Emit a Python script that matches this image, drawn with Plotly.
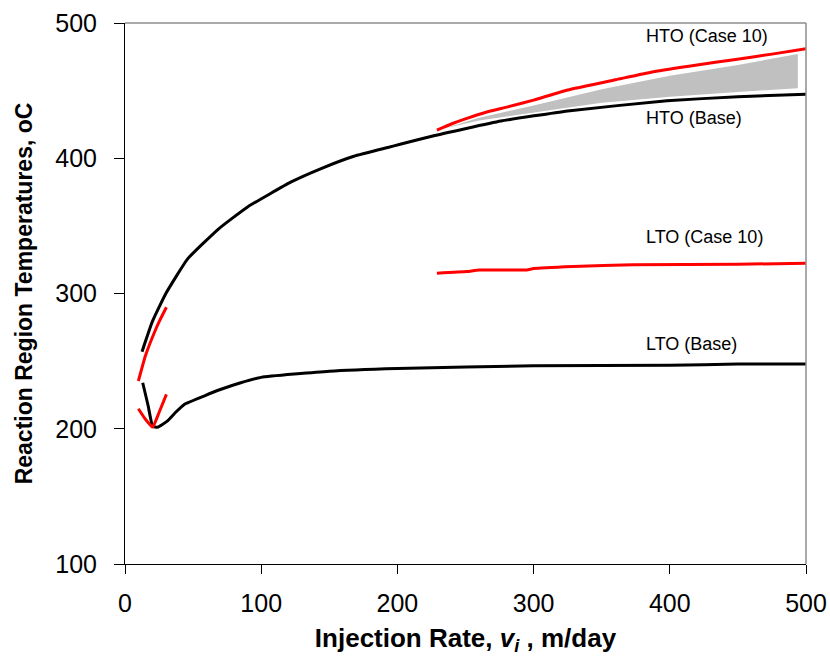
import plotly.graph_objects as go

# HTO base (black)
hto_base_x = [12.5, 20, 30, 46, 69, 90, 122, 144, 168, 193, 202, 226, 276, 325, 398, 450, 500]
hto_base_y = [257, 279, 300, 325.6, 348, 364, 382.5, 392.4, 401.5, 408, 410.3, 416.5, 427.5, 435, 442.5, 445.5, 447.3]
# HTO case 10 (red)
hto_c10_x = [229, 240, 251, 265, 281, 300, 325, 360, 388, 420, 447, 475, 500]
hto_c10_y = [420.8, 425.5, 429.5, 434, 438, 443, 450.5, 458, 464, 469, 472.8, 477, 481]
# Early HTO case 10 (red)
hto_c10e_x = [9.8, 15, 21.5, 25, 30.4]
hto_c10e_y = [235.3, 254, 271, 279, 289.8]
# LTO base (black)
lto_base_x = [13, 17, 20.3, 24, 31, 37, 43.5, 58, 70, 85, 100, 150, 200, 300, 400, 450, 500]
lto_base_y = [234, 217, 201.9, 201.2, 205.6, 212, 218, 224.2, 229, 234, 238, 242.5, 244.5, 246.5, 247, 247.8, 247.8]
# Early LTO case 10 (red)
lto_c10e_x = [9.8, 15, 20.3, 25, 30.4]
lto_c10e_y = [214.8, 207, 201.2, 212, 225.4]
# LTO case 10 (red)
lto_c10_x = [229, 251, 260, 295, 300, 329, 373, 450, 500]
lto_c10_y = [315, 316.2, 317.3, 317.4, 318.5, 320, 321.2, 321.6, 322.4]
# Grey band between the HTO curves
band_upper_x = [234, 260, 300, 350, 400, 450, 494]
band_upper_y = [422, 430, 439, 451, 461, 469, 477]
band_lower_x = [494, 450, 400, 350, 300, 260, 234]
band_lower_y = [451.8, 449, 445.5, 441, 434, 428, 422]

labels = ["HTO (Case 10)", "HTO (Base)", "LTO (Case 10)", "LTO (Base)"]
label_x = [381, 381, 381, 381]
label_y = [490.4, 429.5, 342, 262.5]

FONT = "Liberation Sans, Arial, sans-serif"

fig = go.Figure()
fig.add_trace(go.Scatter(x=band_upper_x + band_lower_x, y=band_upper_y + band_lower_y,
                         fill="toself", fillcolor="#c0c0c0", line=dict(width=0),
                         mode="lines", hoverinfo="skip"))
lw = 3
for xs, ys, c in [(hto_base_x, hto_base_y, "black"), (lto_base_x, lto_base_y, "black"),
                  (hto_c10_x, hto_c10_y, "#ff0000"), (hto_c10e_x, hto_c10e_y, "#ff0000"),
                  (lto_c10e_x, lto_c10e_y, "#ff0000"), (lto_c10_x, lto_c10_y, "#ff0000")]:
    fig.add_trace(go.Scatter(x=xs, y=ys, mode="lines",
                             line=dict(color=c, width=lw, shape="spline", smoothing=0.4)))

for t, x, y in zip(labels, label_x, label_y):
    fig.add_annotation(x=x, y=y, text=t, showarrow=False, xanchor="left", yanchor="middle",
                       font=dict(family=FONT, size=18, color="black"))

fig.update_layout(
    width=830, height=656, showlegend=False,
    plot_bgcolor="white", paper_bgcolor="white",
    margin=dict(l=125, r=24, t=23, b=92),
    font=dict(family=FONT, size=25, color="black"),
    shapes=[
        dict(type="line", xref="paper", yref="paper", x0=0, x1=1, y0=1, y1=1, line=dict(color="#8c8c8c", width=1.5)),
        dict(type="line", xref="paper", yref="paper", x0=1, x1=1, y0=0, y1=1, line=dict(color="#8c8c8c", width=1.5)),
    ],
)
fig.update_xaxes(range=[0, 500], tickvals=[0, 100, 200, 300, 400, 500], showgrid=False, zeroline=False,
                 showline=True, linecolor="black", linewidth=1, ticks="outside", ticklen=9, tickcolor="black",
                 tickfont=dict(size=25), automargin=False, ticklabelstandoff=8,
                 title=dict(text="<b>Injection Rate, <i>v</i><sub><i>i</i></sub> , m/day</b>",
                            font=dict(size=26), standoff=14))
fig.update_yaxes(range=[100, 500], tickvals=[100, 200, 300, 400, 500], showgrid=False, zeroline=False,
                 showline=True, linecolor="black", linewidth=1, ticks="outside", ticklen=10, tickcolor="black",
                 tickfont=dict(size=25), automargin=False, ticklabelstandoff=12,
                 title=dict(text="<b>Reaction Region Temperatures, oC</b>", font=dict(size=23), standoff=16))

fig.write_html("out.html", config={"displayModeBar": False},
               post_script="document.body.style.margin='0';document.body.style.padding='0';")
